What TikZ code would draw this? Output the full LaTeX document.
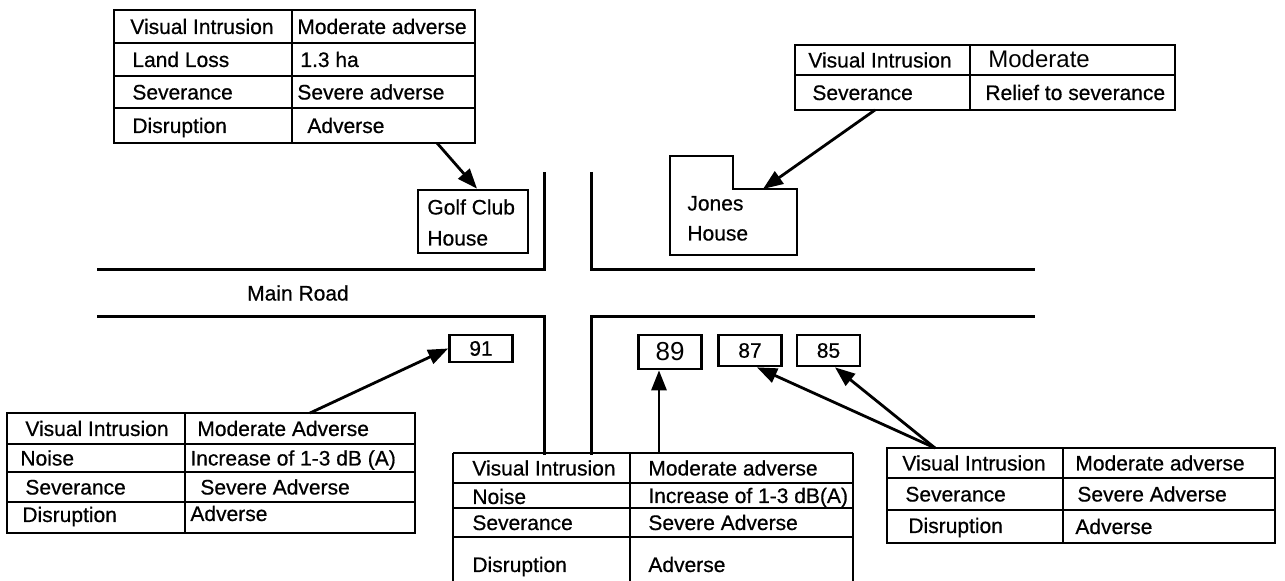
\documentclass[tikz,border=0pt]{standalone}
\usepackage{fontspec}
\setmainfont{Liberation Sans}[BoldFont=Liberation Sans,BoldFeatures={FakeBold=0.6}]
\usetikzlibrary{arrows.meta}
\begin{document}
\begin{tikzpicture}[x=0.5pt,y=-0.5pt,
  font=\fontsize{10.5}{12}\selectfont\bfseries,
  tline/.style={line width=1.35pt},
  road/.style={line width=1.5pt},
  arr/.style={line width=1.4pt,-{Triangle[length=10pt,width=7.5pt]}},
  txt/.style={anchor=base west,inner sep=0pt},
  numbox/.style={draw,line width=1.35pt,inner sep=0pt,minimum width=31.5pt,minimum height=15.5pt}]
\useasboundingbox (0,0) rectangle (1285,581);

% ---------- road ----------
\draw[road] (97,270) -- (544,270) -- (544,172);
\draw[road] (591,172) -- (591,270) -- (1035,270);
\draw[road] (97,317) -- (544,317) -- (544,455);
\draw[road] (591,455) -- (591,317) -- (1035,317);
\node (mainroad) at (298,293) {Main Road};

% ---------- Golf Club House ----------
\node[draw,tline,minimum width=55pt,minimum height=31.5pt] (golf) at (473,221.5) {};
\node[txt] (golf1) at (427,214.5) {Golf Club};
\node[txt] (golf2) at (427,245.5) {House};

% ---------- Jones House ----------
\draw[tline] (670,156) -- (733,156) -- (733,189) -- (797,189) -- (797,255) -- (670,255) -- cycle;
\coordinate (jonesin) at (763,189);
\node[txt] (jones1) at (687,210.5) {Jones};
\node[txt] (jones2) at (687,240.5) {House};

% ---------- house numbers ----------
\node[numbox,minimum height=13.5pt] (b91) at (481,348.5) {91};
\node[numbox,minimum height=17pt,font=\fontsize{13}{15}\selectfont] (b89) at (670,352) {89};
\node[numbox] (b87) at (750,350.5) {87};
\node[numbox] (b85) at (828.5,350.5) {85};

% ---------- table 1 (top left) ----------
\draw[tline] (114,10) rectangle (475,143);
\draw[tline] (292,10) -- (292,143);
\draw[tline] (114,43) -- (475,43) (114,76) -- (475,76) (114,108) -- (475,108);
\node[txt] (t1a) at (130,34) {Visual Intrusion};
\node[txt] (t1b) at (297,34) {Moderate adverse};
\node[txt] (t1c) at (132,67) {Land Loss};
\node[txt] (t1d) at (300,67) {1.3 ha};
\node[txt] (t1e) at (132,99.5) {Severance};
\node[txt] (t1f) at (297,99.5) {Severe adverse};
\node[txt] (t1g) at (132,133) {Disruption};
\node[txt] (t1h) at (307,133) {Adverse};
\coordinate (t1out) at (437,143);

% ---------- table 2 (top right) ----------
\draw[tline] (795,45) rectangle (1175,110);
\draw[tline] (970,45) -- (970,110);
\draw[tline] (795,75) -- (1175,75);
\node[txt] (t2a) at (808,67.5) {Visual Intrusion};
\node[txt,font=\fontsize{12}{14}\selectfont] (t2b) at (988,68) {Moderate};
\node[txt] (t2c) at (812,100) {Severance};
\node[txt] (t2d) at (985,100) {Relief to severance};
\coordinate (t2out) at (875,110);

% ---------- table 3 (bottom left) ----------
\draw[tline] (7,413) rectangle (415,533);
\draw[tline] (185,413) -- (185,533);
\draw[tline] (7,444) -- (415,444) (7,472) -- (415,472) (7,502) -- (415,502);
\node[txt] (t3a) at (25,436) {Visual Intrusion};
\node[txt] (t3b) at (197,436) {Moderate Adverse};
\node[txt] (t3c) at (20,465.5) {Noise};
\node[txt] (t3d) at (190,465.5) {Increase of 1-3 dB (A)};
\node[txt] (t3e) at (25,494.5) {Severance};
\node[txt] (t3f) at (200,494.5) {Severe Adverse};
\node[txt] (t3g) at (22,522) {Disruption};
\node[txt] (t3h) at (190,521) {Adverse};
\coordinate (t3out) at (310,413);

% ---------- table 4 (bottom middle) ----------
\draw[tline] (453,453) -- (453,590) (853,453) -- (853,590) (453,453) -- (853,453);
\draw[tline] (630,453) -- (630,590);
\draw[tline] (453,483) -- (853,483) (453,508) -- (853,508) (453,537) -- (853,537);
\node[txt] (t4a) at (472,475.5) {Visual Intrusion};
\node[txt] (t4b) at (648,475.5) {Moderate adverse};
\node[txt] (t4c) at (472,504) {Noise};
\node[txt] (t4d) at (648,503) {Increase of 1-3 dB(A)};
\node[txt] (t4e) at (472,530) {Severance};
\node[txt] (t4f) at (648,530) {Severe Adverse};
\node[txt] (t4g) at (472,572) {Disruption};
\node[txt] (t4h) at (648,572) {Adverse};
\coordinate (t4out) at (659,453);

% ---------- table 5 (bottom right) ----------
\draw[tline] (887,448) rectangle (1275,543);
\draw[tline] (1063,448) -- (1063,543);
\draw[tline] (887,478) -- (1275,478) (887,510) -- (1275,510);
\node[txt] (t5a) at (902,470.5) {Visual Intrusion};
\node[txt] (t5b) at (1075,470.5) {Moderate adverse};
\node[txt] (t5c) at (905,501.5) {Severance};
\node[txt] (t5d) at (1077,501.5) {Severe Adverse};
\node[txt] (t5e) at (908,533) {Disruption};
\node[txt] (t5f) at (1075,534) {Adverse};
\coordinate (t5out) at (935,448);

% ---------- arrows ----------
\draw[arr] (t1out) -- ([xshift=2pt]golf.north);
\draw[arr] (t2out) -- (jonesin);
\draw[arr] (t3out) -- (b91.west);
\draw[arr] (t4out) -- (t4out |- b89.south);
\draw[arr] (t5out) -- ([xshift=3.5pt]b87.south);
\draw[arr] (t5out) -- ([xshift=3.25pt]b85.south);
\end{tikzpicture}
\end{document}
